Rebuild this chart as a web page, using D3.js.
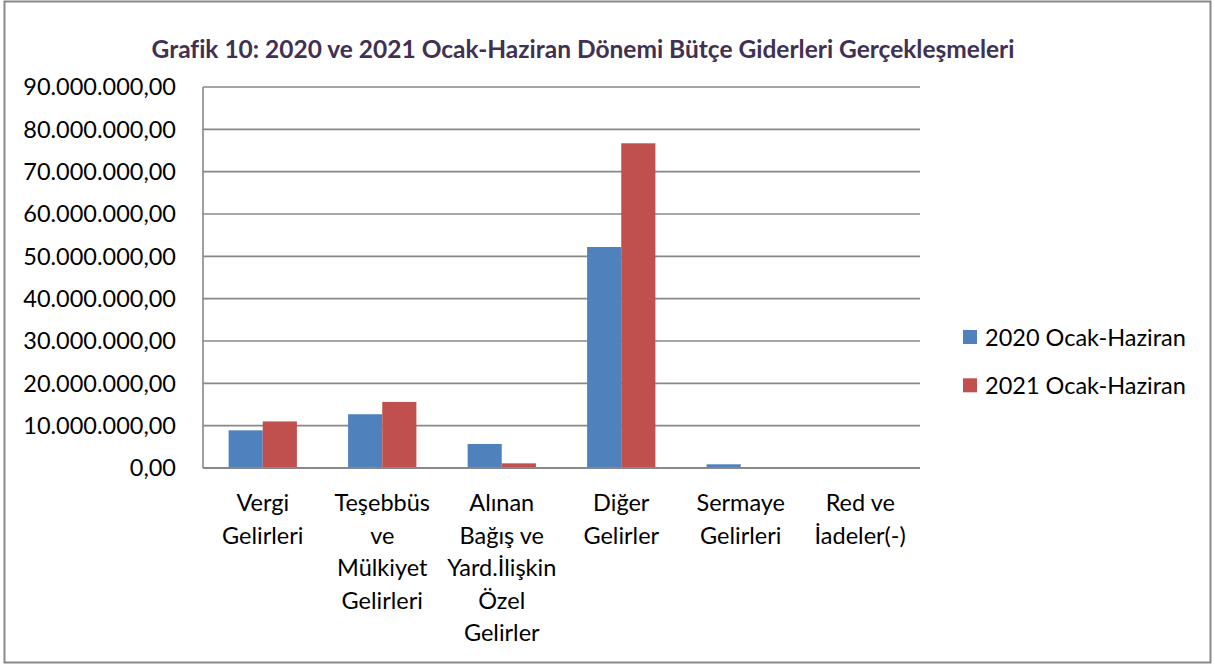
<!DOCTYPE html>
<html lang="tr">
<head>
  <meta charset="UTF-8">
  <title>Grafik 10</title>
  <script src="https://d3js.org/d3.v7.min.js"></script>
  <style>
    body { margin: 0; background: #fff; }
    text { font-family: Lato, "Open Sans", sans-serif; fill: #000; }
    .title { font-weight: bold; fill: #403152; }
  </style>
</head>
<body>
  <svg id="chart" width="1215" height="666"></svg>
  <script>
    // veriler
    const categories = [
      ["Vergi", "Gelirleri"],
      ["Teşebbüs", "ve", "Mülkiyet", "Gelirleri"],
      ["Alınan", "Bağış ve", "Yard.İlişkin", "Özel", "Gelirler"],
      ["Diğer", "Gelirler"],
      ["Sermaye", "Gelirleri"],
      ["Red ve", "İadeler(-)"]
    ];
    const seriesNames = ["2020 Ocak-Haziran", "2021 Ocak-Haziran"];
    const values2020 = [8900000, 12700000, 5670000, 52200000, 870000, 0];
    const values2021 = [11000000, 15600000, 1100000, 76700000, 0, 0];
    const yTicks = [0, 10000000, 20000000, 30000000, 40000000, 50000000, 60000000, 70000000, 80000000, 90000000];
    const colors = ["#4f81bd", "#c0504d"];

    const svg = d3.select("#chart");
    const plotL = 203, plotR = 920, plotT = 87, plotB = 468;

    // dış çerçeve
    svg.append("rect")
      .attr("x", 4.5).attr("y", 1.5)
      .attr("width", 1206).attr("height", 661)
      .attr("fill", "none")
      .attr("stroke", "#898989")
      .attr("stroke-width", 2);

    svg.append("text")
      .attr("class", "title")
      .attr("x", 583).attr("y", 58)
      .attr("text-anchor", "middle")
      .style("font-size", "24.5px")
      .text("Grafik 10: 2020 ve 2021 Ocak-Haziran Dönemi Bütçe Giderleri Gerçekleşmeleri");

    const trLocale = d3.formatLocale({ decimal: ",", thousands: ".", grouping: [3], currency: ["", " TL"] });
    const fmt = trLocale.format(",.2f");

    const x = d3.scaleBand().domain(d3.range(categories.length)).range([plotL, plotR]);
    const y = d3.scaleLinear().domain([0, 90000000]).range([plotB, plotT]);

    // ızgara çizgileri
    svg.append("g")
      .selectAll("line")
      .data(yTicks.filter(d => d > 0))
      .join("line")
      .attr("x1", plotL).attr("x2", plotR)
      .attr("y1", d => y(d)).attr("y2", d => y(d))
      .attr("stroke", "#888")
      .attr("stroke-width", 1.6);

    // y ekseni etiketleri
    svg.append("g")
      .selectAll("text")
      .data(yTicks)
      .join("text")
      .attr("x", 176)
      .attr("y", d => y(d))
      .attr("dy", "0.36em")
      .attr("text-anchor", "end")
      .style("font-size", "23.5px")
      .text(d => fmt(d));

    // çubuklar
    const bw = x.bandwidth() / 3.5;
    [values2020, values2021].forEach((vals, s) => {
      svg.append("g")
        .selectAll("rect")
        .data(vals)
        .join("rect")
        .attr("x", (d, i) => x(i) + x.bandwidth() / 2 - bw + s * bw)
        .attr("y", d => y(d))
        .attr("width", bw)
        .attr("height", d => plotB - y(d))
        .attr("fill", colors[s]);
    });

    // eksen çizgileri
    svg.append("line")
      .attr("x1", plotL).attr("x2", plotL)
      .attr("y1", plotT).attr("y2", plotB)
      .attr("stroke", "#888").attr("stroke-width", 1.6);
    svg.append("line")
      .attr("x1", plotL).attr("x2", plotR)
      .attr("y1", plotB).attr("y2", plotB)
      .attr("stroke", "#888").attr("stroke-width", 2);

    // x ekseni etiketleri
    const xl = svg.append("g")
      .selectAll("text")
      .data(categories)
      .join("text")
      .attr("x", (d, i) => x(i) + x.bandwidth() / 2)
      .attr("y", 511)
      .attr("text-anchor", "middle")
      .style("font-size", "23.5px");
    xl.selectAll("tspan")
      .data(d => d)
      .join("tspan")
      .attr("x", function () { return this.parentNode.getAttribute("x"); })
      .attr("dy", (d, i) => i === 0 ? 0 : 32.6)
      .text(d => d);

    // açıklama
    const lg = svg.append("g")
      .selectAll("g")
      .data(seriesNames)
      .join("g")
      .attr("transform", (d, i) => `translate(963,${330 + i * 48.3})`);
    lg.append("rect")
      .attr("width", 14).attr("height", 14)
      .attr("fill", (d, i) => colors[i]);
    lg.append("text")
      .attr("x", 22).attr("y", 15.5)
      .style("font-size", "23.5px")
      .text(d => d);
  </script>
</body>
</html>
